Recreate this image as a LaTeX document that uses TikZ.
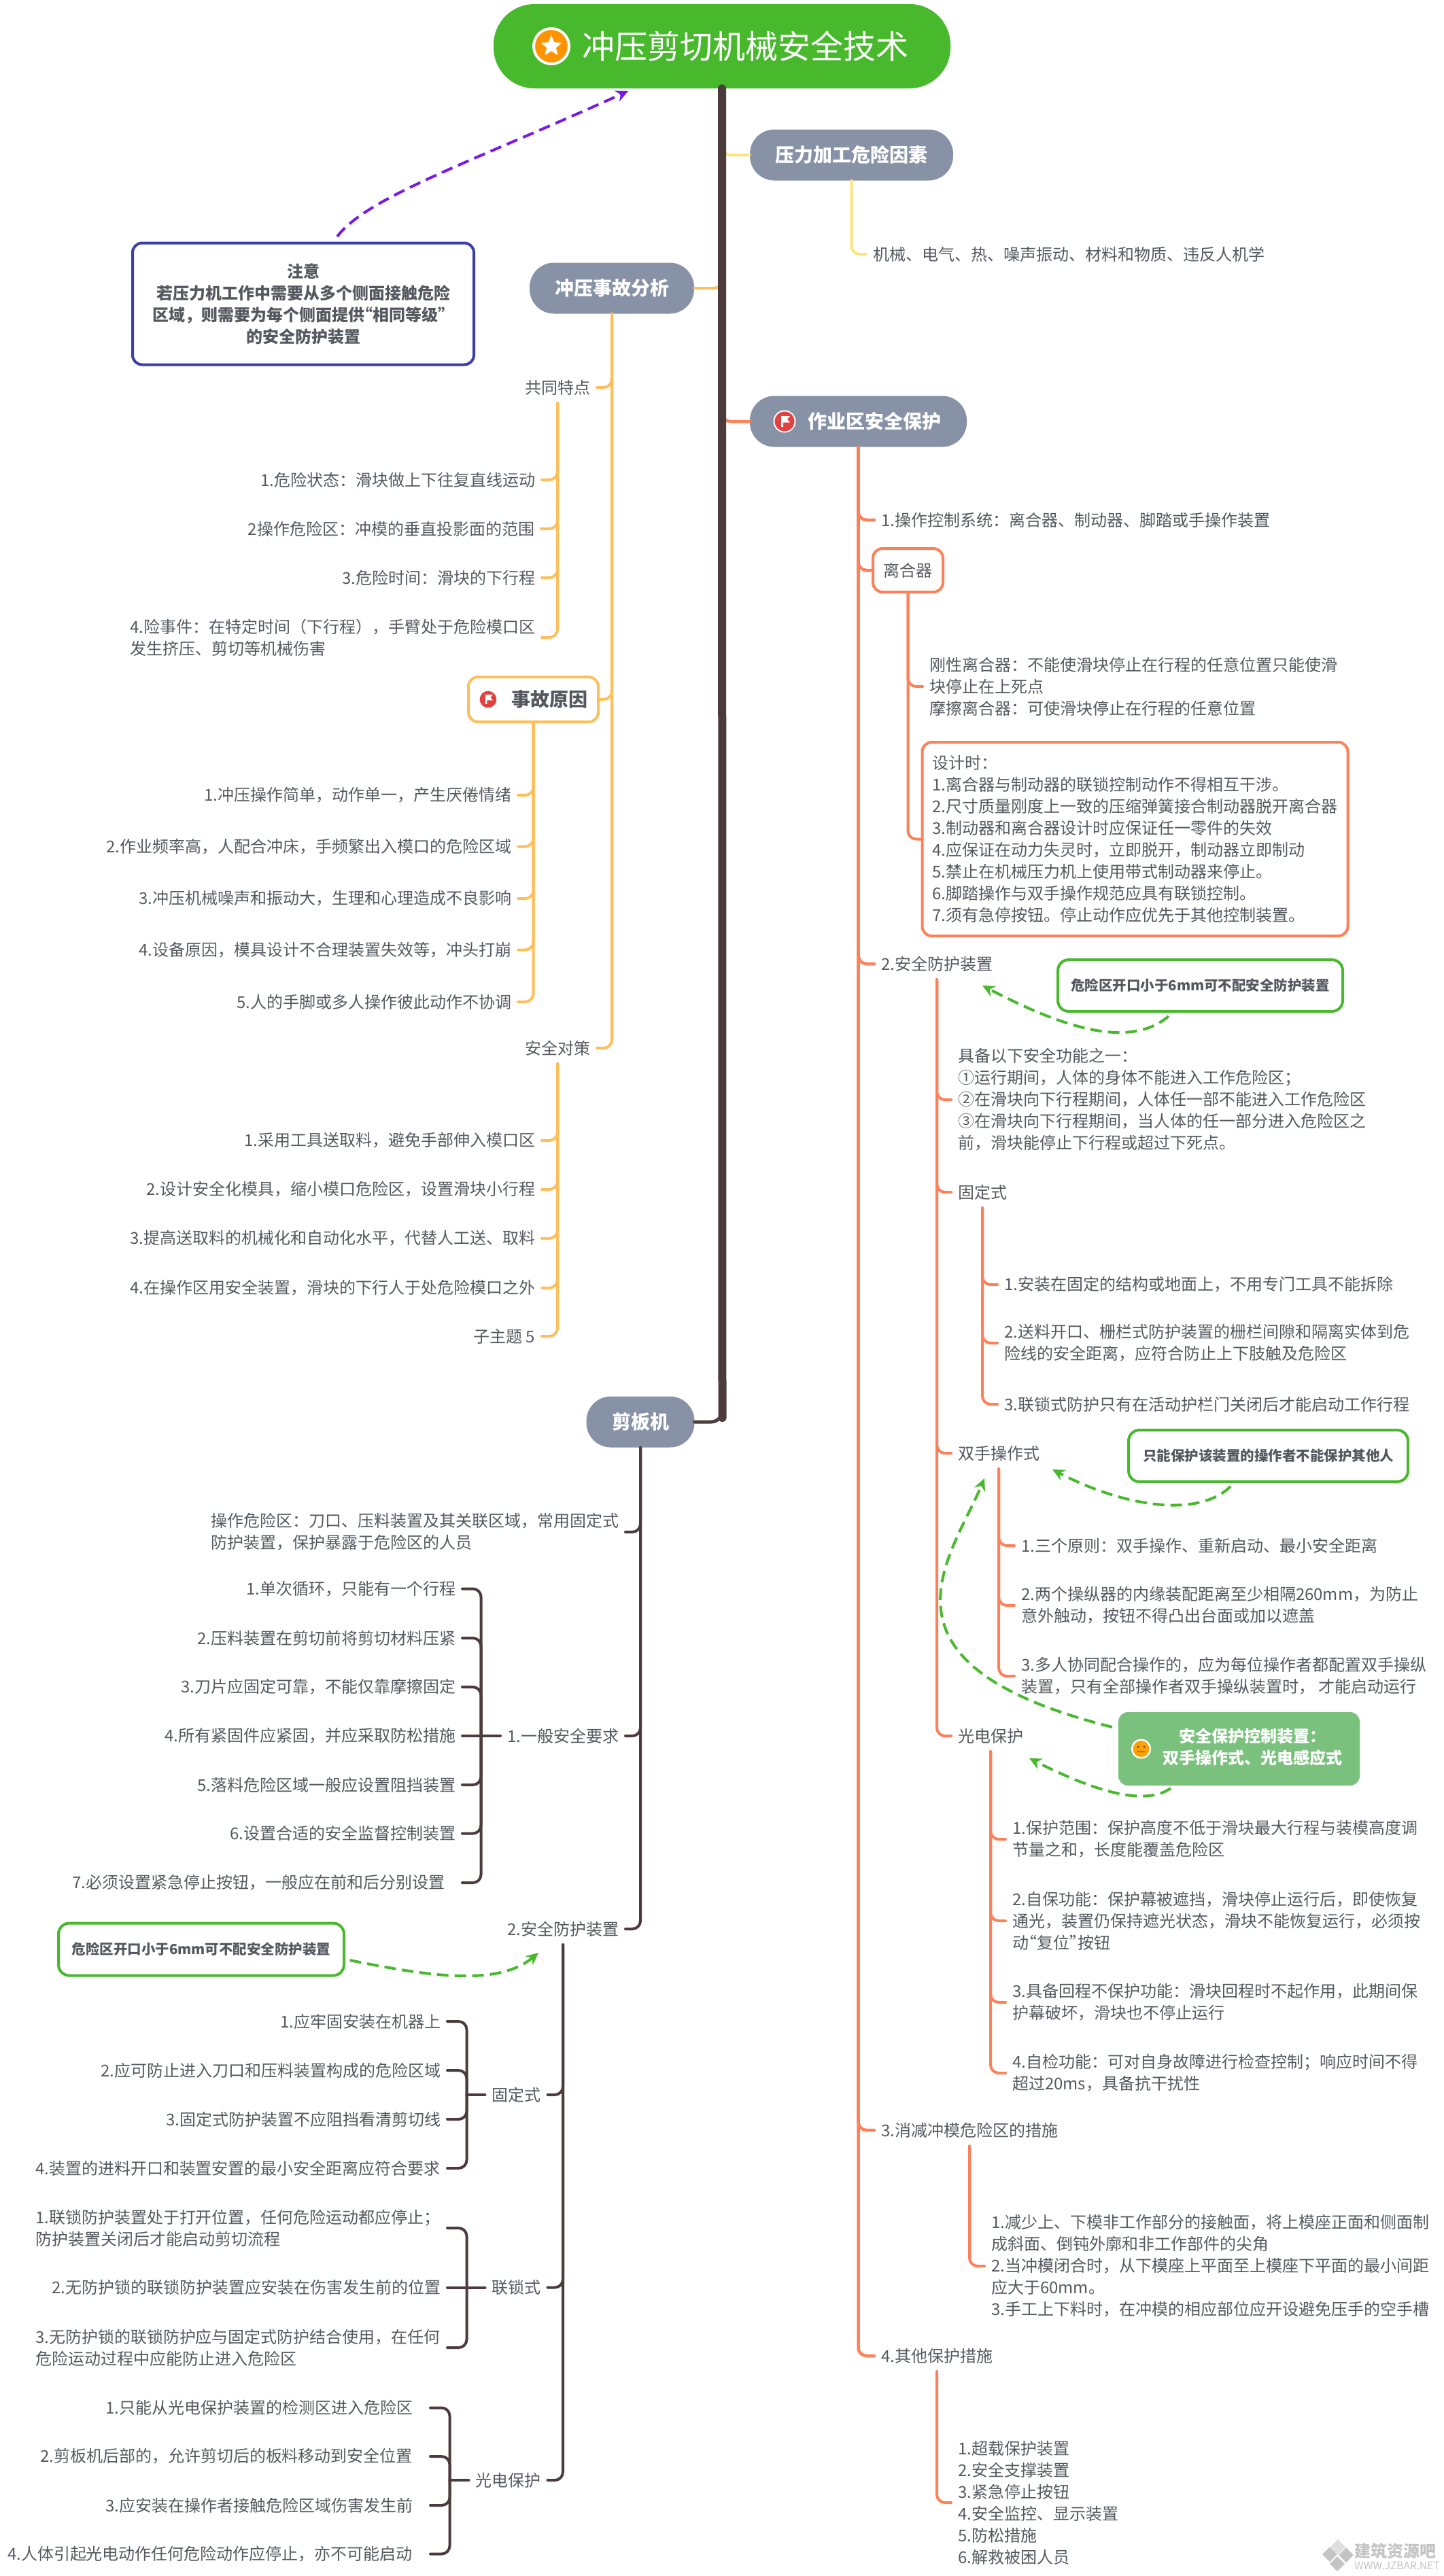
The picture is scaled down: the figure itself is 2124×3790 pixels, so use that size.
\documentclass[tikz,border=0pt]{standalone}
\usepackage{fontspec}
\setmainfont{Noto Sans CJK SC}
\usetikzlibrary{positioning}
\usetikzlibrary{arrows.meta}
\usetikzlibrary{shapes.geometric}
\definecolor{rootgreen}{HTML}{48B82D}
\definecolor{topicgray}{HTML}{8792A6}
\definecolor{leafgray}{HTML}{55595F}
\definecolor{trunkbrown}{HTML}{4C3B3C}
\definecolor{linkyellow}{HTML}{FEE27E}
\definecolor{linkamber}{HTML}{FDBF5B}
\definecolor{linkcoral}{HTML}{FD8059}
\definecolor{noteblue}{HTML}{3A3FA8}
\definecolor{dashpurple}{HTML}{7A18E8}
\definecolor{guardgreen}{HTML}{7BC17E}
\definecolor{markgray}{HTML}{C4C4C4}
\definecolor{flagred}{HTML}{E24141}
\newcommand{\leaffont}{\fontsize{24}{32}\selectfont}
\newcommand{\topicfont}{\bfseries\fontsize{28}{36}\selectfont}
\newcommand{\tagfont}{\bfseries\fontsize{20.5}{28}\selectfont}
\tikzset{
topic/.style={fill=topicgray,text=white,font=\topicfont,rounded corners=36pt,minimum height=75pt,inner sep=0pt},
leaf/.style={font=\leaffont,text=leafgray,inner sep=0pt,outer xsep=10pt,outer ysep=12pt,align=left},
boxed/.style={draw=#1,line width=4pt,rounded corners=14pt,inner sep=0pt,outer sep=0pt,font=\leaffont,text=leafgray,align=left},
tag/.style={draw=rootgreen,line width=4pt,rounded corners=16pt,inner sep=0pt,font=\tagfont,text=leafgray},
yellowlink/.style={linkyellow,line width=4pt,rounded corners=12pt,line cap=round},
amberlink/.style={linkamber,line width=4pt,rounded corners=12pt,line cap=round},
corallink/.style={linkcoral,line width=4.5pt,rounded corners=12pt,line cap=round},
brownlink/.style={trunkbrown,line width=4pt,rounded corners=12pt,line cap=round},
greenarrow/.style={rootgreen,line width=4pt,dash pattern=on 17pt off 9pt,-{Stealth[length=18pt,width=17pt]}},
flagicon/.pic={
\fill[white] (0,0) circle (16.5);
\fill[flagred] (0,0) circle (14.5);
\fill[white] (-5,-8) -- (8,-8) -- (4,-3) -- (8,1.5) -- (-2,1.5) -- (-2,8) -- (-5,8) -- cycle;
},
faceicon/.pic={
\fill[white] (0,0) circle (14.5);
\fill[orange!75!yellow] (0,0) circle (12);
\fill[trunkbrown] (-4.5,-3) circle (1.5);
\fill[trunkbrown] (4.5,-3) circle (1.5);
\draw[trunkbrown,line width=1.3pt] (-5.5,4.5) -- (5.5,4.5);
},
}
\begin{document}
\begin{tikzpicture}[x=1pt,y=-1pt]
\useasboundingbox (0,0) rectangle (2124,3790);
\node[fill=rootgreen,text=white,font=\fontsize{48}{56}\selectfont,rounded corners=60pt,minimum width=672pt,minimum height=124pt,inner sep=0pt] (root) at (1062,68) {\hspace*{68pt}冲压剪切机械安全技术};
\node[circle,fill=orange!85!yellow,draw=white,line width=4pt,minimum size=52pt,inner sep=0pt] (rooticon) at (811,68) {};
\node[star,star points=5,star point ratio=2.3,fill=white,minimum size=33pt,inner sep=0pt] (rootstar) at (811,68) {};
\node[topic,minimum width=299pt] (hazard) at (1252.5,228) {压力加工危险因素};
\node[topic,minimum width=319pt] (zone) at (1262.5,620) {\hspace*{48pt}作业区安全保护};
\node[topic,minimum width=242pt] (accident) at (900,424) {冲压事故分析};
\node[topic,minimum width=159pt] (shear) at (942,2092) {剪板机};
\pic at (1154,620) {flagicon};
\node[draw=noteblue,line width=4pt,rounded corners=14pt,minimum width=502pt,minimum height=179pt,inner sep=0pt,font=\bfseries\leaffont,text=leafgray,align=center] (note) at (446,447) {注意\\若压力机工作中需要从多个侧面接触危险\\区域，则需要为每个侧面提供\hspace*{-12pt}“相同等级”\hspace*{-12pt}\\的安全防护装置};

\node[leaf,anchor=west] (factors) at (1274,374) {机械、电气、热、噪声振动、材料和物质、违反人机学};

\node[leaf,anchor=east] (common) at (878,570) {共同特点};
\node[leaf,anchor=east] (common1) at (797,706) {1.危险状态：滑块做上下往复直线运动};
\node[leaf,anchor=east] (common2) at (796,778) {2操作危险区：冲模的垂直投影面的范围};
\node[leaf,anchor=east] (common3) at (797,850) {3.危险时间：滑块的下行程};
\node[leaf,anchor=east] (common4) at (797,938) {4.险事件：在特定时间（下行程），手臂处于危险模口区\\发生挤压、剪切等机械伤害};
\node[boxed=linkamber,minimum width=191pt,minimum height=66pt,font=\topicfont] (cause) at (784.5,1029) {\hspace*{47pt}事故原因};
\pic[scale=0.85] at (718,1029) {flagicon};
\node[leaf,anchor=east] (cause1) at (762,1170) {1.冲压操作简单，动作单一，产生厌倦情绪};
\node[leaf,anchor=east] (cause2) at (762,1245.5) {2.作业频率高，人配合冲床，手频繁出入模口的危险区域};
\node[leaf,anchor=east] (cause3) at (762,1322) {3.冲压机械噪声和振动大，生理和心理造成不良影响};
\node[leaf,anchor=east] (cause4) at (762,1397.5) {4.设备原因，模具设计不合理装置失效等，冲头打崩};
\node[leaf,anchor=east] (cause5) at (762,1474) {5.人的手脚或多人操作彼此动作不协调};
\node[leaf,anchor=east] (measure) at (878,1542) {安全对策};
\node[leaf,anchor=east] (measure1) at (797,1678) {1.采用工具送取料，避免手部伸入模口区};
\node[leaf,anchor=east] (measure2) at (797,1750) {2.设计安全化模具，缩小模口危险区，设置滑块小行程};
\node[leaf,anchor=east] (measure3) at (797,1822) {3.提高送取料的机械化和自动化水平，代替人工送、取料};
\node[leaf,anchor=east] (measure4) at (797,1895) {4.在操作区用安全装置，滑块的下行人于处危险模口之外};
\node[leaf,anchor=east] (measure5) at (797,1966) {子主题 5};

\node[leaf,anchor=west] (control) at (1286,765) {1.操作控制系统：离合器、制动器、脚踏或手操作装置};
\node[boxed=linkcoral,minimum width=103pt,minimum height=64pt] (clutch) at (1335.5,839) {离合器};
\node[leaf,anchor=west] (clutchtxt) at (1357,1010) {刚性离合器：不能使滑块停止在行程的任意位置只能使滑\\块停止在上死点\\摩擦离合器：可使滑块停止在行程的任意位置};
\node[boxed=linkcoral,minimum width=626pt,minimum height=285pt] (design) at (1669.5,1234.5) {设计时：\\1.离合器与制动器的联锁控制动作不得相互干涉。\\2.尺寸质量刚度上一致的压缩弹簧接合制动器脱开离合器\\3.制动器和离合器设计时应保证任一零件的失效\\4.应保证在动力失灵时，立即脱开，制动器立即制动\\5.禁止在机械压力机上使用带式制动器来停止。\\6.脚踏操作与双手操作规范应具有联锁控制。\\7.须有急停按钮。停止动作应优先于其他控制装置。};
\node[leaf,anchor=west] (guard) at (1286,1418) {2.安全防护装置};
\node[tag,minimum width=419pt,minimum height=76pt] (guardtag) at (1765.5,1450) {危险区开口小于6mm可不配安全防护装置};
\node[leaf,anchor=west] (function) at (1399,1618) {具备以下安全功能之一：\\①运行期间，人体的身体不能进入工作危险区；\\②在滑块向下行程期间，人体任一部不能进入工作危险区\\③在滑块向下行程期间，当人体的任一部分进入危险区之\\前，滑块能停止下行程或超过下死点。};
\node[leaf,anchor=west] (fixed) at (1399,1754) {固定式};
\node[leaf,anchor=west] (fixed1) at (1467,1890) {1.安装在固定的结构或地面上，不用专门工具不能拆除};
\node[leaf,anchor=west] (fixed2) at (1467,1976) {2.送料开口、栅栏式防护装置的栅栏间隙和隔离实体到危\\险线的安全距离，应符合防止上下肢触及危险区};
\node[leaf,anchor=west] (fixed3) at (1467,2066) {3.联锁式防护只有在活动护栏门关闭后才能启动工作行程};
\node[leaf,anchor=west] (twohand) at (1399,2138) {双手操作式};
\node[tag,minimum width=411pt,minimum height=76pt] (twohandtag) at (1865.5,2142) {只能保护该装置的操作者不能保护其他人};
\node[leaf,anchor=west] (twohand1) at (1492,2274) {1.三个原则：双手操作、重新启动、最小安全距离};
\node[leaf,anchor=west] (twohand2) at (1492,2362) {2.两个操纵器的内缘装配距离至少相隔260mm，为防止\\意外触动，按钮不得凸出台面或加以遮盖};
\node[leaf,anchor=west] (twohand3) at (1492,2466) {3.多人协同配合操作的，应为每位操作者都配置双手操纵\\装置，只有全部操作者双手操纵装置时， 才能启动运行};
\node[leaf,anchor=west] (photo) at (1399,2554) {光电保护};
\node[fill=guardgreen,rounded corners=14pt,minimum width=355pt,minimum height=108pt,inner sep=0pt,text=white,font=\bfseries\leaffont] (device) at (1822.5,2573) {\hspace*{39pt}\begin{tabular}{@{}c@{}}安全保护控制装置：\\双手操作式、光电感应式\end{tabular}};
\pic at (1678.5,2573) {faceicon};
\node[leaf,anchor=west] (photo1) at (1479,2706) {1.保护范围：保护高度不低于滑块最大行程与装模高度调\\节量之和，长度能覆盖危险区};
\node[leaf,anchor=west] (photo2) at (1479,2826) {2.自保功能：保护幕被遮挡，滑块停止运行后，即使恢复\\通光，装置仍保持遮光状态，滑块不能恢复运行，必须按\\动\hspace*{-12pt}“复位”\hspace*{-12pt}按钮};
\node[leaf,anchor=west] (photo3) at (1479,2946) {3.具备回程不保护功能：滑块回程时不起作用，此期间保\\护幕破坏，滑块也不停止运行};
\node[leaf,anchor=west] (photo4) at (1479,3050) {4.自检功能：可对自身故障进行检查控制；响应时间不得\\超过20ms，具备抗干扰性};
\node[leaf,anchor=west] (reduce) at (1286,3134) {3.消减冲模危险区的措施};
\node[leaf,anchor=west] (reducetxt) at (1448,3334) {1.减少上、下模非工作部分的接触面，将上模座正面和侧面制\\成斜面、倒钝外廓和非工作部件的尖角\\2.当冲模闭合时，从下模座上平面至上模座下平面的最小间距\\应大于60mm。\\3.手工上下料时，在冲模的相应部位应开设避免压手的空手槽};
\node[leaf,anchor=west] (other) at (1286,3466) {4.其他保护措施};
\node[leaf,anchor=west] (othertxt) at (1399,3682) {1.超载保护装置\\2.安全支撑装置\\3.紧急停止按钮\\4.安全监控、显示装置\\5.防松措施\\6.解救被困人员};

\node[leaf,anchor=east] (area) at (920,2254) {操作危险区：刀口、压料装置及其关联区域，常用固定式\\防护装置，保护暴露于危险区的人员};
\node[leaf,anchor=east] (general) at (920,2554) {1.一般安全要求};
\coordinate (generalbar) at (707.5,2554);
\node[leaf,anchor=east] (general1) at (680,2337.5) {1.单次循环，只能有一个行程};
\node[leaf,anchor=east] (general2) at (680,2410) {2.压料装置在剪切前将剪切材料压紧};
\node[leaf,anchor=east] (general3) at (680,2482) {3.刀片应固定可靠，不能仅靠摩擦固定};
\node[leaf,anchor=east] (general4) at (680,2554) {4.所有紧固件应紧固，并应采取防松措施};
\node[leaf,anchor=east] (general5) at (680,2626) {5.落料危险区域一般应设置阻挡装置};
\node[leaf,anchor=east] (general6) at (680,2697.5) {6.设置合适的安全监督控制装置};
\node[leaf,anchor=east,outer xsep=26pt] (general7) at (680,2770) {7.必须设置紧急停止按钮，一般应在前和后分别设置};
\node[leaf,anchor=east] (device2) at (920,2838) {2.安全防护装置};
\node[tag,minimum width=420pt,minimum height=77pt] (device2tag) at (296,2868) {危险区开口小于6mm可不配安全防护装置};
\node[leaf,anchor=east] (fence) at (805.5,3082) {固定式};
\coordinate (fencebar) at (686.5,3082);
\node[leaf,anchor=east] (fence1) at (658,2974) {1.应牢固安装在机器上};
\node[leaf,anchor=east] (fence2) at (658,3046) {2.应可防止进入刀口和压料装置构成的危险区域};
\node[leaf,anchor=east] (fence3) at (658,3118) {3.固定式防护装置不应阻挡看清剪切线};
\node[leaf,anchor=east] (fence4) at (658,3190) {4.装置的进料开口和装置安置的最小安全距离应符合要求};
\node[leaf,anchor=east] (lock) at (805.5,3365.5) {联锁式};
\coordinate (lockbar) at (686.5,3365.5);
\node[leaf,anchor=east] (lock1) at (658,3278) {1.联锁防护装置处于打开位置，任何危险运动都应停止；\\防护装置关闭后才能启动剪切流程};
\node[leaf,anchor=east] (lock2) at (658,3365.5) {2.无防护锁的联锁防护装置应安装在伤害发生前的位置};
\node[leaf,anchor=east] (lock3) at (658,3454) {3.无防护锁的联锁防护应与固定式防护结合使用，在任何\\危险运动过程中应能防止进入危险区};
\node[leaf,anchor=east] (light) at (805.5,3649) {光电保护};
\coordinate (lightbar) at (661.5,3649);
\node[leaf,anchor=east,outer xsep=26pt] (light1) at (633,3542.5) {1.只能从光电保护装置的检测区进入危险区};
\node[leaf,anchor=east,outer xsep=26pt] (light2) at (633,3614) {2.剪板机后部的，允许剪切后的板料移动到安全位置};
\node[leaf,anchor=east,outer xsep=26pt] (light3) at (633,3686) {3.应安装在操作者接触危险区域伤害发生前};
\node[leaf,anchor=east,outer xsep=26pt] (light4) at (633,3757.5) {4.人体引起光电动作任何危险动作应停止，亦不可能启动};

\draw[yellowlink] (root.south) |- (hazard.west);
\draw[amberlink] (root.south) |- (accident.east);
\draw[corallink] (root.south) |- (zone.west);
\draw[brownlink,line width=5pt,rounded corners=16pt] (root.south) |- (shear.east);
\coordinate (trunkend) at (1062.5,2086);
\draw[trunkbrown,line width=12pt,line cap=round] (root.south) -- (trunkend);

\draw[yellowlink] (hazard.south) |- (factors.west);
\draw[amberlink] (accident.south) |- (common.east);
\draw[amberlink] (accident.south) |- (cause.east);
\draw[amberlink] (accident.south) |- (measure.east);
\draw[amberlink] (common.south) |- (common1.east);
\draw[amberlink] (common.south) |- (common2.east);
\draw[amberlink] (common.south) |- (common3.east);
\draw[amberlink] (common.south) |- (common4.east);
\draw[amberlink] (cause.south) |- (cause1.east);
\draw[amberlink] (cause.south) |- (cause2.east);
\draw[amberlink] (cause.south) |- (cause3.east);
\draw[amberlink] (cause.south) |- (cause4.east);
\draw[amberlink] (cause.south) |- (cause5.east);
\draw[amberlink] (measure.south) |- (measure1.east);
\draw[amberlink] (measure.south) |- (measure2.east);
\draw[amberlink] (measure.south) |- (measure3.east);
\draw[amberlink] (measure.south) |- (measure4.east);
\draw[amberlink] (measure.south) |- (measure5.east);

\draw[corallink] (zone.south) |- (control.west);
\draw[corallink] (zone.south) |- (clutch.west);
\draw[corallink] (zone.south) |- (guard.west);
\draw[corallink] (zone.south) |- (reduce.west);
\draw[corallink] (zone.south) |- (other.west);
\draw[corallink,line width=4pt] (clutch.south) |- (clutchtxt.west);
\draw[corallink,line width=4pt] (clutch.south) |- (design.west);
\draw[corallink,line width=4pt] (guard.south) |- (function.west);
\draw[corallink,line width=4pt] (guard.south) |- (fixed.west);
\draw[corallink,line width=4pt] (guard.south) |- (twohand.west);
\draw[corallink,line width=4pt] (guard.south) |- (photo.west);
\draw[corallink,line width=4pt] (fixed.south) |- (fixed1.west);
\draw[corallink,line width=4pt] (fixed.south) |- (fixed2.west);
\draw[corallink,line width=4pt] (fixed.south) |- (fixed3.west);
\draw[corallink,line width=4pt] (twohand.south) |- (twohand1.west);
\draw[corallink,line width=4pt] (twohand.south) |- (twohand2.west);
\draw[corallink,line width=4pt] (twohand.south) |- (twohand3.west);
\draw[corallink,line width=4pt] (photo.south) |- (photo1.west);
\draw[corallink,line width=4pt] (photo.south) |- (photo2.west);
\draw[corallink,line width=4pt] (photo.south) |- (photo3.west);
\draw[corallink,line width=4pt] (photo.south) |- (photo4.west);
\draw[corallink,line width=4pt] (reduce.south) |- (reducetxt.west);
\draw[corallink,line width=4pt] (other.south) |- (othertxt.west);

\draw[brownlink] (shear.south) |- (area.east);
\draw[brownlink] (shear.south) |- (general.east);
\draw[brownlink] (shear.south) |- (device2.east);
\draw[brownlink] (general.west) -- (general4.east);
\draw[brownlink] (generalbar) |- (general1.east);
\draw[brownlink] (generalbar) |- (general2.east);
\draw[brownlink] (generalbar) |- (general3.east);
\draw[brownlink] (generalbar) |- (general5.east);
\draw[brownlink] (generalbar) |- (general6.east);
\draw[brownlink] (generalbar) |- (general7.east);
\draw[brownlink] (device2.south) |- (fence.east);
\draw[brownlink] (device2.south) |- (lock.east);
\draw[brownlink] (device2.south) |- (light.east);
\draw[brownlink] (fence.west) -- (fencebar);
\draw[brownlink] (fencebar) |- (fence1.east);
\draw[brownlink] (fencebar) |- (fence2.east);
\draw[brownlink] (fencebar) |- (fence3.east);
\draw[brownlink] (fencebar) |- (fence4.east);
\draw[brownlink] (lock.west) -- (lock2.east);
\draw[brownlink] (lockbar) |- (lock1.east);
\draw[brownlink] (lockbar) |- (lock3.east);
\draw[brownlink] (light.west) -- (lightbar);
\draw[brownlink] (lightbar) |- (light1.east);
\draw[brownlink] (lightbar) |- (light2.east);
\draw[brownlink] (lightbar) |- (light3.east);
\draw[brownlink] (lightbar) |- (light4.east);

\coordinate (noteout) at (496,348);
\coordinate (rootin) at (924,134);
\draw[dashpurple,line width=4pt,dash pattern=on 17pt off 9pt,-{Stealth[length=18pt,width=17pt]}] (noteout) .. controls (540,290) and (690,240) .. (rootin);
\coordinate (guardout) at (1719,1495);
\coordinate (guardin) at (1445,1450);
\draw[greenarrow] (guardout) .. controls (1660,1545) and (1560,1510) .. (guardin);
\coordinate (twohandout) at (1810,2187);
\coordinate (twohandin) at (1548,2162);
\draw[greenarrow] (twohandout) .. controls (1760,2235) and (1650,2215) .. (twohandin);
\coordinate (deviceout) at (1636,2541);
\coordinate (devicein) at (1448,2175);
\draw[greenarrow] (deviceout) .. controls (1265,2448) and (1399,2292) .. (devicein);
\coordinate (photoout) at (1722,2631);
\coordinate (photoin) at (1514,2587);
\draw[greenarrow] (photoout) .. controls (1680,2660) and (1600,2630) .. (photoin);
\coordinate (tagout) at (514.5,2884);
\coordinate (tagin) at (792,2873);
\draw[greenarrow] (tagout) .. controls (620,2905) and (730,2925) .. (tagin);

\fill[markgray!55] (1968,3736) -- (1979,3747) -- (1968,3758) -- (1957,3747) -- cycle;
\fill[markgray] (1980,3748) -- (1991,3759) -- (1980,3770) -- (1969,3759) -- cycle;
\fill[markgray] (1967,3761) -- (1978,3772) -- (1967,3783) -- (1956,3772) -- cycle;
\fill[markgray] (1956,3747) -- (1967,3758) -- (1956,3769) -- (1945,3758) -- cycle;
\node[text=markgray,font=\bfseries\fontsize{24}{28}\selectfont,inner sep=0pt,anchor=west] (markname) at (1992,3753) {建筑资源吧};
\node[text=markgray,font=\fontsize{15.5}{18}\selectfont,inner sep=0pt,anchor=west] (markurl) at (1992,3775) {WWW.JZBAR.NET};
\end{tikzpicture}
\end{document}
